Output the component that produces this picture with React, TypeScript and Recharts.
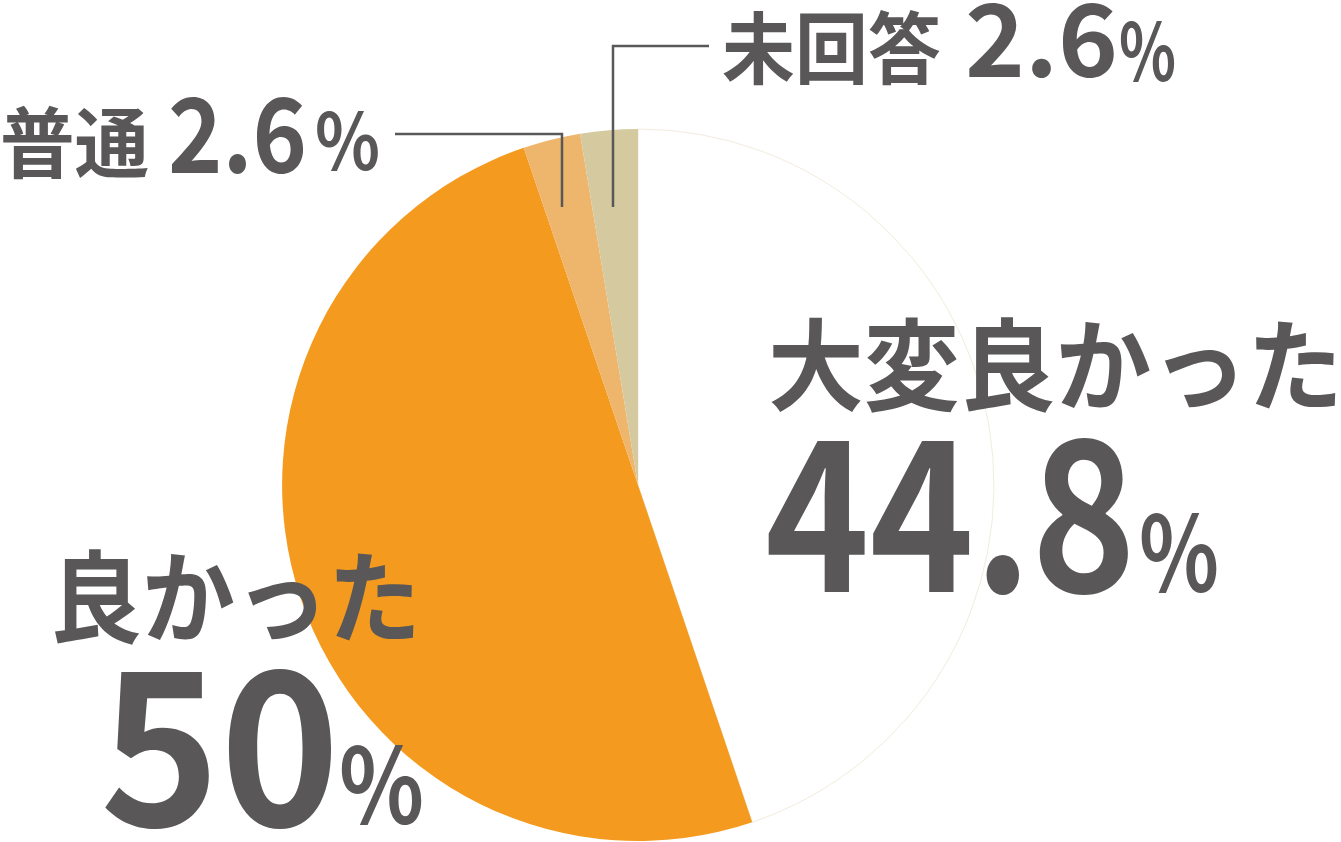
import React from 'react';
import { PieChart, Pie, Cell } from 'recharts';

const categories = ['大変良かった', '良かった', '普通', '未回答'];
const values = [44.8, 50, 2.6, 2.6];
const valueLabels = ['44.8', '50', '2.6', '2.6'];
const colors = ['#FFFFFF', '#F39A1F', '#EEB66D', '#D5C99F'];
const strokes = ['#F2ECDD', 'none', 'none', 'none'];

const data = categories.map((name, i) => ({ name, value: values[i] }));

const TEXT = '#595757';
const FONT = '"Noto Sans CJK JP", "Noto Sans", sans-serif';

type T = { s: string; x: number; y: number; fs: number; len: number };

const Txt = ({ cx, cy, t }: { cx: number; cy: number; t: T }) => (
  <text
    x={cx + t.x}
    y={cy + t.y}
    fill={TEXT}
    fontFamily={FONT}
    fontWeight={700}
    fontSize={t.fs}
    textLength={t.len}
    lengthAdjust="spacingAndGlyphs"
  >
    {t.s}
  </text>
);

const renderLabel = (props: any) => {
  const { cx, cy, index } = props;
  const name = categories[index];
  const v = valueLabels[index];
  if (index === 0) {
    return (
      <g key="l0">
        <Txt cx={cx} cy={cy} t={{ s: name, x: 130, y: -82, fs: 100, len: 575 }} />
        <Txt cx={cx} cy={cy} t={{ s: v, x: 127, y: 107, fs: 209, len: 371 }} />
        <Txt cx={cx} cy={cy} t={{ s: '%', x: 501, y: 107, fs: 105, len: 80 }} />
      </g>
    );
  }
  if (index === 1) {
    return (
      <g key="l1">
        <Txt cx={cx} cy={cy} t={{ s: name, x: -589, y: 150, fs: 100, len: 372 }} />
        <Txt cx={cx} cy={cy} t={{ s: v, x: -538, y: 341, fs: 214, len: 240 }} />
        <Txt cx={cx} cy={cy} t={{ s: '%', x: -299, y: 339, fs: 105, len: 85 }} />
      </g>
    );
  }
  if (index === 2) {
    return (
      <g key="l2">
        <Txt cx={cx} cy={cy} t={{ s: name, x: -638, y: -313, fs: 77, len: 149 }} />
        <Txt cx={cx} cy={cy} t={{ s: v, x: -470, y: -312, fs: 104, len: 139 }} />
        <Txt cx={cx} cy={cy} t={{ s: '%', x: -323, y: -315, fs: 78, len: 65 }} />
        <polyline points={`${cx - 243},${cy - 351} ${cx - 76},${cy - 351} ${cx - 76},${cy - 278}`} fill="none" stroke={TEXT} strokeWidth={2.5} />
      </g>
    );
  }
  return (
    <g key="l3">
      <Txt cx={cx} cy={cy} t={{ s: name, x: 84, y: -407, fs: 78, len: 219 }} />
      <Txt cx={cx} cy={cy} t={{ s: v, x: 327, y: -408, fs: 100, len: 153 }} />
      <Txt cx={cx} cy={cy} t={{ s: '%', x: 481, y: -404, fs: 80, len: 57 }} />
      <polyline points={`${cx + 71},${cy - 439} ${cx - 25},${cy - 439} ${cx - 25},${cy - 278}`} fill="none" stroke={TEXT} strokeWidth={2.5} />
    </g>
  );
};

export default function App() {
  return (
    <div style={{ position: 'absolute', left: 0, top: 0, width: 1341, height: 842, background: '#fff' }}>
      <PieChart width={1341} height={842} margin={{ top: 0, right: 0, bottom: 0, left: 0 }}>
        <Pie
          data={data}
          dataKey="value"
          nameKey="name"
          cx={638}
          cy={485}
          outerRadius={356}
          innerRadius={0}
          startAngle={90}
          endAngle={-270}
          isAnimationActive={false}
          label={renderLabel}
          labelLine={false}
        >
          {data.map((d, i) => (
            <Cell key={d.name} fill={colors[i]} stroke={strokes[i]} strokeWidth={i === 0 ? 1 : 0} />
          ))}
        </Pie>
      </PieChart>
    </div>
  );
}
